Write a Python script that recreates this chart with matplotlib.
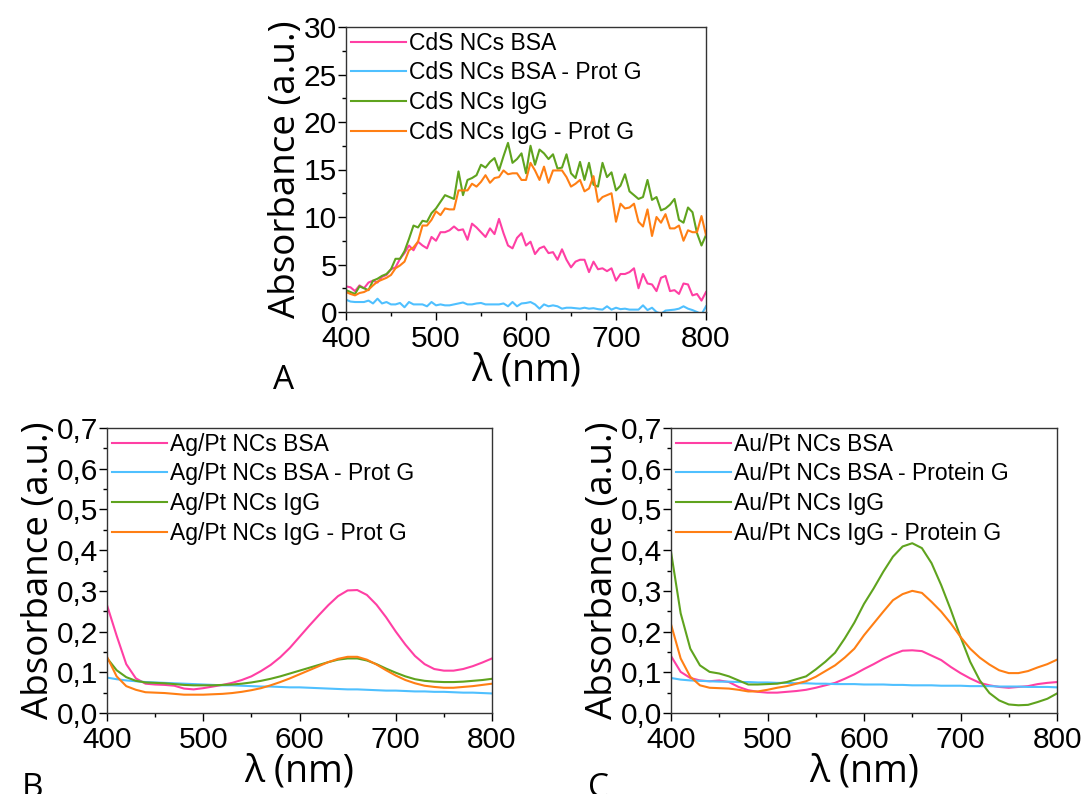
import numpy as np
import matplotlib
matplotlib.use("Agg")
import matplotlib.pyplot as plt
from matplotlib.ticker import MultipleLocator, FuncFormatter

# ---------------- data ----------------
wl_a = list(range(400, 801, 5))
cds_bsa = [2.7, 2.6, 2.2, 2.8, 2.5, 3.1, 3.3, 3.1, 3.7, 3.9, 4.5, 4.7, 5.6, 6.2, 7.0, 6.5, 7.4, 7.0, 6.7, 7.9,
           7.5, 8.4, 8.4, 8.6, 9.0, 8.6, 8.7, 7.6, 9.3, 8.9, 8.4, 7.9, 8.8, 8.2, 9.8, 8.3, 7.0, 6.7, 7.8, 8.3,
           7.0, 7.4, 6.1, 6.7, 6.9, 6.2, 6.3, 5.5, 6.6, 5.5, 4.7, 5.3, 5.5, 5.5, 4.2, 5.3, 4.5, 4.6, 4.3, 4.6,
           3.3, 4.0, 4.0, 4.2, 4.6, 2.5, 4.0, 3.0, 2.9, 2.2, 3.6, 3.8, 2.2, 2.3, 1.9, 3.0, 2.9, 1.75, 1.9, 1.2,
           2.1]
cds_bsa_pg = [1.3, 1.1, 1.05, 1.05, 1.05, 1.2, 0.9, 1.4, 0.9, 1.05, 0.8, 0.8, 0.95, 0.5, 1.05, 0.8, 0.8, 0.8, 0.6, 1.05,
              0.7, 0.8, 0.7, 0.7, 0.8, 0.9, 1.0, 0.8, 0.8, 0.9, 0.95, 0.8, 0.8, 0.8, 0.8, 0.9, 0.6, 1.05, 0.6, 0.9,
              0.95, 1.05, 0.8, 0.35, 0.8, 0.6, 0.7, 0.6, 0.35, 0.45, 0.45, 0.4, 0.35, 0.45, 0.35, 0.4, 0.3, 0.25, 0.6, 0.25,
              0.45, 0.3, 0.35, 0.25, 0.25, 0.25, 0.7, 0.2, 0.45, 0.0, -0.2, 0.15, 0.2, 0.25, 0.35, 0.6, 0.35, 0.2, 0.0, -0.25,
              0.6]
cds_igg = [2.3, 2.1, 1.9, 2.7, 2.5, 2.3, 3.3, 3.5, 3.8, 4.0, 4.5, 5.6, 5.6, 6.4, 7.7, 9.1, 8.9, 9.6, 9.5, 10.4,
           10.9, 11.6, 12.3, 12.1, 11.9, 14.8, 12.3, 13.9, 14.1, 14.4, 15.5, 15.2, 15.8, 16.2, 14.9, 16.4, 17.8, 15.7, 16.1, 16.7,
           14.6, 17.5, 15.5, 17.1, 16.7, 16.1, 16.6, 15.1, 15.2, 16.6, 14.6, 14.1, 15.8, 13.9, 15.7, 13.4, 13.2, 15.7, 14.2, 14.7,
           12.8, 13.3, 14.5, 12.7, 12.3, 11.9, 12.1, 13.9, 11.8, 12.1, 10.7, 10.9, 11.3, 11.9, 9.7, 9.4, 11.0, 10.5, 8.3, 7.0,
           8.1]
cds_igg_pg = [2.1, 1.9, 1.75, 2.0, 2.1, 2.35, 2.8, 3.2, 3.4, 3.6, 3.9, 4.6, 4.9, 5.3, 6.5, 6.8, 7.4, 9.1, 9.1, 9.7,
              10.6, 10.2, 10.9, 10.8, 10.8, 12.8, 12.8, 12.8, 13.5, 13.2, 13.7, 14.4, 13.6, 14.1, 14.2, 14.9, 14.5, 14.6, 14.6, 13.9,
              13.9, 15.7, 14.9, 13.9, 15.3, 13.6, 14.9, 14.9, 14.9, 14.2, 13.2, 13.5, 13.9, 12.7, 13.0, 14.3, 11.6, 12.1, 12.3, 12.5,
              9.5, 11.4, 10.9, 11.0, 11.4, 9.5, 9.0, 10.8, 8.0, 10.0, 9.4, 10.3, 8.8, 8.8, 9.1, 7.5, 8.6, 8.4, 8.4, 10.1,
              8.1]

wl_bc = list(range(400, 801, 10))
agpt_bsa = [0.265, 0.19, 0.12, 0.085, 0.072, 0.07, 0.069, 0.067, 0.06, 0.058, 0.061, 0.065, 0.069, 0.074, 0.081, 0.09,
            0.103, 0.118, 0.137, 0.16, 0.187, 0.214, 0.24, 0.265, 0.287, 0.301, 0.302, 0.29, 0.266, 0.235, 0.2, 0.168,
            0.14, 0.12, 0.108, 0.104, 0.104, 0.108, 0.115, 0.124, 0.134]
agpt_bsa_pg = [0.087, 0.083, 0.08, 0.078, 0.076, 0.075, 0.074, 0.073, 0.072, 0.071, 0.07, 0.069, 0.068, 0.068, 0.067, 0.066,
               0.065, 0.065, 0.064, 0.063, 0.063, 0.062, 0.061, 0.06, 0.059, 0.058, 0.058, 0.057, 0.056, 0.055, 0.055, 0.054,
               0.053, 0.053, 0.052, 0.052, 0.051, 0.05, 0.05, 0.049, 0.048]
agpt_igg = [0.135, 0.105, 0.088, 0.079, 0.075, 0.074, 0.073, 0.071, 0.069, 0.068, 0.068, 0.068, 0.069, 0.07, 0.072, 0.075,
            0.079, 0.084, 0.09, 0.097, 0.104, 0.111, 0.118, 0.125, 0.131, 0.134, 0.134, 0.129, 0.12, 0.109, 0.099, 0.09,
            0.083, 0.079, 0.077, 0.076, 0.076, 0.077, 0.079, 0.081, 0.084]
agpt_igg_pg = [0.138, 0.09, 0.066, 0.057, 0.051, 0.05, 0.049, 0.047, 0.045, 0.045, 0.045, 0.046, 0.047, 0.049, 0.052, 0.056,
               0.061, 0.068, 0.076, 0.085, 0.095, 0.105, 0.115, 0.125, 0.133, 0.138, 0.138, 0.131, 0.119, 0.105, 0.092, 0.081,
               0.073, 0.067, 0.064, 0.062, 0.062, 0.064, 0.066, 0.069, 0.072]

aupt_bsa = [0.14, 0.101, 0.086, 0.08, 0.078, 0.08, 0.076, 0.064, 0.056, 0.052, 0.05, 0.05, 0.052, 0.054, 0.057, 0.062,
            0.068, 0.074, 0.084, 0.095, 0.108, 0.12, 0.133, 0.144, 0.153, 0.154, 0.152, 0.141, 0.13, 0.113, 0.098, 0.085,
            0.074, 0.068, 0.064, 0.062, 0.064, 0.066, 0.071, 0.074, 0.076]
aupt_bsa_pg = [0.086, 0.082, 0.08, 0.079, 0.078, 0.077, 0.077, 0.076, 0.076, 0.075, 0.075, 0.074, 0.074, 0.073, 0.073, 0.072,
               0.072, 0.071, 0.071, 0.071, 0.07, 0.07, 0.07, 0.069, 0.069, 0.068, 0.068, 0.068, 0.067, 0.067, 0.067, 0.066,
               0.066, 0.066, 0.065, 0.065, 0.065, 0.064, 0.064, 0.064, 0.063]
aupt_igg = [0.396, 0.245, 0.158, 0.117, 0.101, 0.097, 0.09, 0.08, 0.07, 0.07, 0.071, 0.072, 0.076, 0.083, 0.09, 0.107,
            0.126, 0.148, 0.183, 0.222, 0.268, 0.306, 0.347, 0.384, 0.409, 0.417, 0.405, 0.368, 0.314, 0.253, 0.187, 0.126,
            0.08, 0.049, 0.031, 0.021, 0.019, 0.02, 0.027, 0.035, 0.048]
aupt_igg_pg = [0.218, 0.134, 0.089, 0.068, 0.062, 0.061, 0.06, 0.057, 0.053, 0.053, 0.057, 0.062, 0.066, 0.072, 0.078, 0.089,
               0.103, 0.117, 0.136, 0.158, 0.191, 0.22, 0.249, 0.277, 0.292, 0.3, 0.295, 0.273, 0.249, 0.22, 0.187, 0.158,
               0.136, 0.119, 0.105, 0.098, 0.098, 0.103, 0.112, 0.12, 0.131]

labels_a = ["CdS NCs BSA", "CdS NCs BSA - Prot G", "CdS NCs IgG", "CdS NCs IgG - Prot G"]
labels_b = ["Ag/Pt NCs BSA", "Ag/Pt NCs BSA - Prot G", "Ag/Pt NCs IgG", "Ag/Pt NCs IgG - Prot G"]
labels_c = ["Au/Pt NCs BSA", "Au/Pt NCs BSA - Protein G", "Au/Pt NCs IgG", "Au/Pt NCs IgG - Protein G"]

colors = ["#FF3FA4", "#4FC0FF", "#5FA31E", "#FF7F14"]

TICK_FONT = "Liberation Sans"
LABEL_FONT = "Open Sans"

W, H = 1083, 794
fig = plt.figure(figsize=(W / 100, H / 100), dpi=100)


def px_axes(x0, y0, x1, y1):
    return fig.add_axes([x0 / W, 1 - y1 / H, (x1 - x0) / W, (y1 - y0) / H])


def style(ax, ymax, ymajor, yminor, comma):
    ax.set_xlim(400, 800)
    ax.set_ylim(0, ymax)
    ax.xaxis.set_major_locator(MultipleLocator(100))
    ax.xaxis.set_minor_locator(MultipleLocator(50))
    ax.yaxis.set_major_locator(MultipleLocator(ymajor))
    ax.yaxis.set_minor_locator(MultipleLocator(yminor))
    if comma:
        ax.yaxis.set_major_formatter(FuncFormatter(lambda v, p: f"{v:.1f}".replace(".", ",")))
    else:
        ax.yaxis.set_major_formatter(FuncFormatter(lambda v, p: f"{v:.0f}"))
    ax.tick_params(which="major", direction="out", length=6, width=1.0, labelsize=21.5)
    ax.tick_params(which="minor", direction="out", length=3, width=1.0)
    ax.tick_params(axis="x", which="major", pad=3.5)
    ax.tick_params(axis="y", which="major", pad=0.5)
    ax.tick_params(top=False, right=False)
    for lab in ax.get_xticklabels() + ax.get_yticklabels():
        lab.set_fontfamily(TICK_FONT)
    for s in ax.spines.values():
        s.set_linewidth(1.0)
        s.set_color("#333333")
    ax.set_xlabel("λ (nm)", fontsize=27, family=LABEL_FONT, labelpad=-1)
    ax.set_ylabel("Absorbance (a.u.)", fontsize=26.5, family=LABEL_FONT, labelpad=0)


def draw(ax, x, series, labels):
    for y, lab, c in zip(series, labels, colors):
        ax.plot(x, y, color=c, lw=1.5, label=lab, clip_on=True)
    ax.legend(loc="upper left", frameon=False, prop={"family": TICK_FONT, "size": 16.5},
              handlelength=2.4, handletextpad=0.15, labelspacing=0.3,
              borderaxespad=0.0, borderpad=0.2)


axA = px_axes(346, 27, 706, 312)
draw(axA, wl_a, [cds_bsa, cds_bsa_pg, cds_igg, cds_igg_pg], labels_a)
style(axA, 30, 5, 2.5, False)

axB = px_axes(107, 428, 492, 713)
draw(axB, wl_bc, [agpt_bsa, agpt_bsa_pg, agpt_igg, agpt_igg_pg], labels_b)
style(axB, 0.7, 0.1, 0.05, True)

axC = px_axes(671, 428, 1057, 713)
draw(axC, wl_bc, [aupt_bsa, aupt_bsa_pg, aupt_igg, aupt_igg_pg], labels_c)
style(axC, 0.7, 0.1, 0.05, True)

fig.text(273 / W, 1 - 389 / H, "A", fontsize=24, family=LABEL_FONT, ha="left", va="baseline")
fig.text(22 / W, 1 - 797 / H, "B", fontsize=24, family=LABEL_FONT, ha="left", va="baseline")
fig.text(588 / W, 1 - 797 / H, "C", fontsize=24, family=LABEL_FONT, ha="left", va="baseline")

fig.savefig("out.png", dpi=100)
